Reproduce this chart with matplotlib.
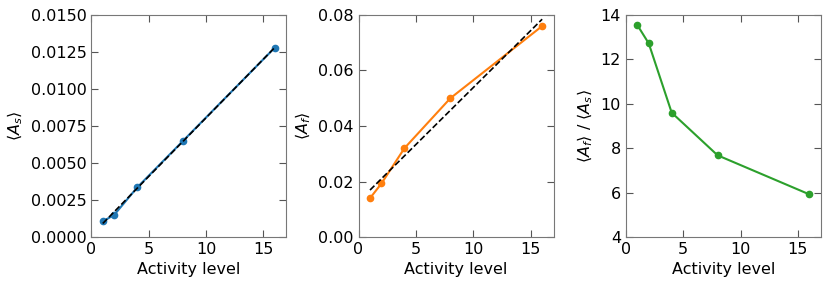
import numpy as np
import matplotlib
matplotlib.use("Agg")
import matplotlib.pyplot as plt

# activity levels and measured means
activity = np.array([1, 2, 4, 8, 16])
A_s = np.array([0.00105, 0.0015, 0.00335, 0.0065, 0.0128])
A_f = np.array([0.014, 0.0193, 0.032, 0.050, 0.076])
ratio = np.array([13.55, 12.72, 9.6, 7.68, 5.92])

plt.rcParams['font.size'] = 11.5
plt.rcParams['axes.edgecolor'] = '#777777'
plt.rcParams['xtick.color'] = '#555555'
plt.rcParams['ytick.color'] = '#555555'
plt.rcParams['xtick.labelcolor'] = 'black'
plt.rcParams['ytick.labelcolor'] = 'black'

fig, axes = plt.subplots(1, 3, figsize=(8.3, 2.88), dpi=100)
fig.subplots_adjust(left=0.11, right=0.989, top=0.948, bottom=0.177, wspace=0.37)

ax = axes[0]
p = np.polyfit(activity, A_s, 1)
ax.plot(activity, A_s, 'o-', color='C0', ms=4.5, lw=1.5)
ax.plot(activity, np.polyval(p, activity), 'k--', lw=1.2)
ax.set_ylim(0, 0.015)
ax.set_yticks(np.arange(0, 0.0151, 0.0025))
ax.set_ylabel(r'$\langle A_s \rangle$')

ax = axes[1]
p = np.polyfit(activity, A_f, 1)
ax.plot(activity, A_f, 'o-', color='C1', ms=4.5, lw=1.5)
ax.plot(activity, np.polyval(p, activity), 'k--', lw=1.2)
ax.set_ylim(0, 0.08)
ax.set_yticks(np.arange(0, 0.081, 0.02))
ax.set_ylabel(r'$\langle A_f \rangle$')

ax = axes[2]
ax.plot(activity, ratio, 'o-', color='C2', ms=4.5, lw=1.5)
ax.set_ylim(4, 14)
ax.set_ylabel(r'$\langle A_f \rangle\ /\ \langle A_s \rangle$')

for ax in axes:
    ax.set_xlim(0, 17)
    ax.set_xticks([0, 5, 10, 15])
    ax.set_xlabel('Activity level')
    ax.tick_params(direction='in', top=True, right=True, length=5)

fig.savefig('out.png', dpi=100)
